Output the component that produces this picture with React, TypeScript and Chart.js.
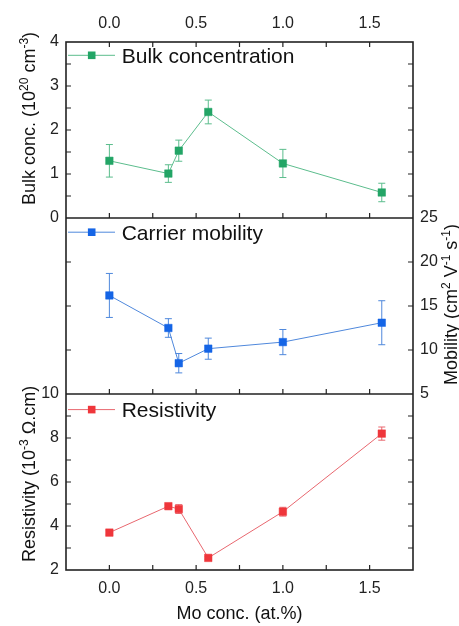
import React, { useEffect, useRef } from 'react';
import { Chart, registerables } from 'chart.js';

Chart.register(...registerables);

const FONT = '"Liberation Sans", Arial, Helvetica, sans-serif';

// ---- data ----
const moConc = [0, 0.34, 0.40, 0.57, 1.0, 1.57];

const bulkConc = [1.30, 1.01, 1.53, 2.41, 1.24, 0.58];
const bulkErr = [0.37, 0.20, 0.24, 0.27, 0.32, 0.21];

const mobility = [16.2, 12.5, 8.5, 10.15, 10.9, 13.1];
const mobilityErr = [2.5, 1.06, 1.1, 1.2, 1.43, 2.5];

const resistivity = [3.70, 4.90, 4.77, 2.55, 4.65, 8.20];
const resistivityErr = [0.10, 0.08, 0.20, 0.06, 0.20, 0.30];

const seriesLabels = ['Bulk concentration', 'Carrier mobility', 'Resistivity'];

// tick labels
const xTickLabels = [0, 0.5, 1.0, 1.5];
const bulkTickLabels = [0, 1, 2, 3, 4];
const mobilityTickLabels = [5, 10, 15, 20, 25];
const resistivityTickLabels = [2, 4, 6, 8, 10];

// tick positions drawn as inward tick marks
const xTickMarks = [0, 0.25, 0.5, 0.75, 1.0, 1.25, 1.5];
const bulkTickMarks = [0.5, 1, 1.5, 2, 2.5, 3, 3.5];
const mobilityTickMarks = [10, 15, 20];
const resistivityTickMarks = [3, 4, 5, 6, 7, 8, 9];

// axis titles (rich text: [text, isSuperscript])
const bulkTitle: [string, boolean][] = [['Bulk conc. (10', false], ['20', true], [' cm', false], ['-3', true], [')', false]];
const mobilityTitle: [string, boolean][] = [['Mobility (cm', false], ['2', true], [' V', false], ['-1', true], [' s', false], ['-1', true], [')', false]];
const resistivityTitle: [string, boolean][] = [['Resistivity (10', false], ['-3', true], [' \u03A9.cm)', false]];
const xTitle = 'Mo conc. (at.%)';

const GREEN = '#23a566';
const GREEN_L = '#5cbd8d';
const BLUE = '#1565e6';
const BLUE_L = '#4f88dc';
const RED = '#ef363b';
const RED_L = '#e8676f';

function drawRich(ctx: CanvasRenderingContext2D, segs: [string, boolean][], x: number, y: number) {
  ctx.save();
  ctx.translate(x, y);
  ctx.rotate(-Math.PI / 2);
  ctx.textAlign = 'left';
  ctx.textBaseline = 'alphabetic';
  ctx.fillStyle = '#111';
  let cx = 0;
  for (const [t, sup] of segs) {
    ctx.font = `${sup ? 12 : 18}px ${FONT}`;
    ctx.fillText(t, cx, sup ? -7.5 : 0);
    cx += ctx.measureText(t).width;
  }
  ctx.restore();
}

function drawLegend(ctx: CanvasRenderingContext2D, left: number, cy: number, mark: string, line: string, label: string) {
  ctx.save();
  ctx.strokeStyle = line;
  ctx.lineWidth = 1;
  ctx.beginPath();
  ctx.moveTo(left + 2, cy);
  ctx.lineTo(left + 49, cy);
  ctx.stroke();
  ctx.fillStyle = mark;
  ctx.fillRect(left + 25.7 - 3.8, cy - 3.8, 7.6, 7.6);
  ctx.fillStyle = '#111';
  ctx.font = `21px ${FONT}`;
  ctx.textAlign = 'left';
  ctx.textBaseline = 'alphabetic';
  ctx.fillText(label, left + 55.7, cy + 7.6);
  ctx.restore();
}

const panelPlugin = {
  id: 'panelPlugin',
  beforeDatasetsDraw(chart: any) {
    const ctx: CanvasRenderingContext2D = chart.ctx;
    chart.data.datasets.forEach((ds: any) => {
      const xs = chart.scales[ds.xAxisID];
      const ys = chart.scales[ds.yAxisID];
      ctx.save();
      ctx.strokeStyle = ds.borderColor;
      ctx.lineWidth = 1;
      ds.data.forEach((p: any, j: number) => {
        const e = ds.errors[j];
        const px = xs.getPixelForValue(p.x);
        const t = ys.getPixelForValue(p.y + e);
        const b = ys.getPixelForValue(p.y - e);
        ctx.beginPath();
        ctx.moveTo(px, t);
        ctx.lineTo(px, b);
        ctx.moveTo(px - 3.5, t);
        ctx.lineTo(px + 3.5, t);
        ctx.moveTo(px - 3.5, b);
        ctx.lineTo(px + 3.5, b);
        ctx.stroke();
      });
      ctx.restore();
    });
  },
  afterDatasetsDraw(chart: any) {
    const ctx: CanvasRenderingContext2D = chart.ctx;
    const { left, right, top, bottom } = chart.chartArea;
    const x = chart.scales.x;
    const yB = chart.scales.yBulk;
    const yM = chart.scales.yMob;
    const yR = chart.scales.yRes;
    ctx.save();
    ctx.strokeStyle = '#222';
    ctx.lineWidth = 1.2;
    const L = 5;
    ctx.beginPath();
    for (const v of xTickMarks) {
      const px = x.getPixelForValue(v);
      ctx.moveTo(px, yB.top);
      ctx.lineTo(px, yB.top + L);
      for (const s of [yB, yM, yR]) {
        ctx.moveTo(px, s.bottom);
        ctx.lineTo(px, s.bottom - L);
      }
    }
    const yTicks = (s: any, vals: number[]) => {
      for (const v of vals) {
        const py = s.getPixelForValue(v);
        ctx.moveTo(left, py);
        ctx.lineTo(left + L, py);
        ctx.moveTo(right, py);
        ctx.lineTo(right - L, py);
      }
    };
    yTicks(yB, bulkTickMarks);
    yTicks(yM, mobilityTickMarks);
    yTicks(yR, resistivityTickMarks);
    ctx.stroke();

    ctx.lineWidth = 1.6;
    ctx.strokeStyle = '#222';
    ctx.strokeRect(left, top, right - left, bottom - top);
    ctx.beginPath();
    ctx.moveTo(left, yB.bottom);
    ctx.lineTo(right, yB.bottom);
    ctx.moveTo(left, yR.top);
    ctx.lineTo(right, yR.top);
    ctx.stroke();
    ctx.restore();

    drawLegend(ctx, left, yB.top + 13.3, GREEN, GREEN_L, seriesLabels[0]);
    drawLegend(ctx, left, yM.top + 14.2, BLUE, BLUE_L, seriesLabels[1]);
    drawLegend(ctx, left, yR.top + 15.6, RED, RED_L, seriesLabels[2]);

    drawRich(ctx, bulkTitle, 35, yB.bottom - 13);
    drawRich(ctx, resistivityTitle, 35, yR.bottom - 8);
    drawRich(ctx, mobilityTitle, 457, yM.bottom - 9);
  },
};

const hiddenTicks = { display: false };
const noGrid = { display: false, drawTicks: false, tickLength: 0 };
const noBorder = { display: false };
const tickFont = { size: 16, family: FONT };

function yAxis(pos: string, stack: string, weight: number, min: number, max: number, labels: number[] | null, width: number) {
  return {
    type: 'linear',
    position: pos,
    stack,
    stackWeight: 1,
    weight,
    min,
    max,
    grid: noGrid,
    border: noBorder,
    ticks: labels ? { padding: 7, font: tickFont, color: '#222' } : hiddenTicks,
    afterBuildTicks: (s: any) => {
      if (labels) s.ticks = labels.map((v) => ({ value: v }));
    },
    afterFit: (s: any) => {
      s.width = width;
    },
  };
}

function xAxis(pos: string, height: number, title: boolean) {
  return {
    type: 'linear',
    position: pos,
    min: -0.25,
    max: 1.75,
    grid: noGrid,
    border: noBorder,
    ticks: {
      padding: 9,
      font: tickFont,
      color: '#222',
      maxRotation: 0,
      autoSkip: false,
      callback: (v: any) => Number(v).toFixed(1),
    },
    afterBuildTicks: (s: any) => {
      s.ticks = xTickLabels.map((v) => ({ value: v }));
    },
    title: {
      display: title,
      text: xTitle,
      font: { size: 18, family: FONT },
      color: '#111',
      padding: { top: 0, bottom: 1 },
    },
    afterFit: (s: any) => {
      s.height = height;
    },
  };
}

export default function App() {
  const ref = useRef<HTMLCanvasElement | null>(null);
  useEffect(() => {
    if (!ref.current) return;
    Chart.defaults.font.family = FONT;
    const mk = (ys: number[]) => moConc.map((xv, i) => ({ x: xv, y: ys[i] }));
    const ds = (i: number, ys: number[], errs: number[], yId: string, mark: string, line: string) =>
      ({
        label: seriesLabels[i],
        data: mk(ys),
        errors: errs,
        xAxisID: 'x',
        yAxisID: yId,
        borderColor: line,
        borderWidth: 1,
        pointStyle: 'rect',
        pointRadius: 5.3,
        pointBackgroundColor: mark,
        pointBorderColor: mark,
        pointBorderWidth: 0.5,
        tension: 0,
      } as any);
    const chart = new Chart(ref.current, {
      type: 'line',
      data: {
        datasets: [
          ds(0, bulkConc, bulkErr, 'yBulk', GREEN, GREEN_L),
          ds(1, mobility, mobilityErr, 'yMob', BLUE, BLUE_L),
          ds(2, resistivity, resistivityErr, 'yRes', RED, RED_L),
        ],
      },
      options: {
        responsive: true,
        maintainAspectRatio: false,
        animation: false,
        layout: { padding: 0 },
        plugins: { legend: { display: false }, tooltip: { enabled: false } },
        scales: {
          x: xAxis('bottom', 56, true),
          xTop: xAxis('top', 42, false),
          yBulk: yAxis('left', 'left', 3, 0, 4, bulkTickLabels, 66),
          yMobL: yAxis('left', 'left', 2, 5, 25, null, 66),
          yRes: yAxis('left', 'left', 1, 2, 10, resistivityTickLabels, 66),
          yBulkR: yAxis('right', 'right', 1, 0, 4, null, 46),
          yMob: yAxis('right', 'right', 2, 5, 25, mobilityTickLabels, 46),
          yResR: yAxis('right', 'right', 3, 2, 10, null, 46),
        } as any,
      },
      plugins: [panelPlugin as any],
    });
    return () => chart.destroy();
  }, []);
  return (
    <div style={{ position: 'fixed', left: 0, top: 0, width: 459, height: 626, background: '#fff' }}>
      <canvas ref={ref} />
    </div>
  );
}
